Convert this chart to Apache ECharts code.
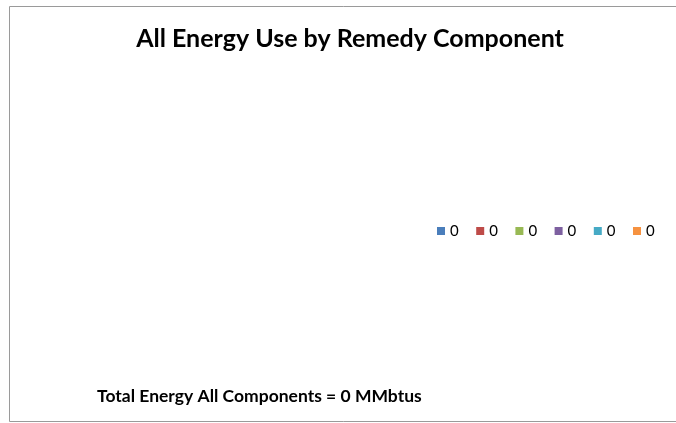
<!DOCTYPE html>
<html>
<head>
<meta charset="utf-8">
<script src="https://cdn.jsdelivr.net/npm/echarts@6/dist/echarts.min.js"></script>
<style>
html,body{margin:0;padding:0;background:#fff;}
#chart{width:676px;height:423px;}
</style>
</head>
<body>
<div id="chart"></div>
<script>
var titleText = 'All Energy Use by Remedy Component';
var footerText = 'Total Energy All Components = 0 MMbtus';
var categories = ['c1', 'c2', 'c3', 'c4', 'c5', 'c6'];
var legendLabels = ['0', '0', '0', '0', '0', '0'];
var values = [0, 0, 0, 0, 0, 0];
var colors = ['#4A7EBB', '#BE4B48', '#98B954', '#7D60A0', '#46AAC5', '#F69240'];

var chart = echarts.init(document.getElementById('chart'), null, {renderer: 'canvas'});
var labelMap = {};
categories.forEach(function (c, i) { labelMap[c] = legendLabels[i]; });

chart.setOption({
  animation: false,
  color: colors,
  legend: {
    data: categories,
    orient: 'horizontal',
    left: 437,
    top: 223,
    padding: 0,
    icon: 'rect',
    itemWidth: 8,
    itemHeight: 8,
    itemGap: 17.5,
    selectedMode: false,
    formatter: function (n) { return labelMap[n]; },
    textStyle: {fontFamily: 'Lato', fontSize: 15, lineHeight: 16, color: '#000'}
  },
  series: [{
    type: 'pie',
    center: [220, 225],
    radius: 120,
    stillShowZeroSum: false,
    showEmptyCircle: false,
    label: {show: false},
    labelLine: {show: false},
    data: categories.map(function (c, i) { return {name: c, value: values[i]}; })
  }],
  graphic: [
    {type: 'rect', silent: true, shape: {x: 9.5, y: 6.5, width: 700, height: 415},
     style: {fill: 'none', stroke: '#9a9a9a', lineWidth: 1}},
    {type: 'text', x: 350, y: 39, style: {text: titleText, font: 'bold 25px Lato', fill: '#000', align: 'center', verticalAlign: 'middle'}},
    {type: 'text', x: 97, y: 396, style: {text: footerText, font: 'bold 17.5px Lato', fill: '#000', align: 'left', verticalAlign: 'middle'}}
  ]
});
</script>
</body>
</html>
